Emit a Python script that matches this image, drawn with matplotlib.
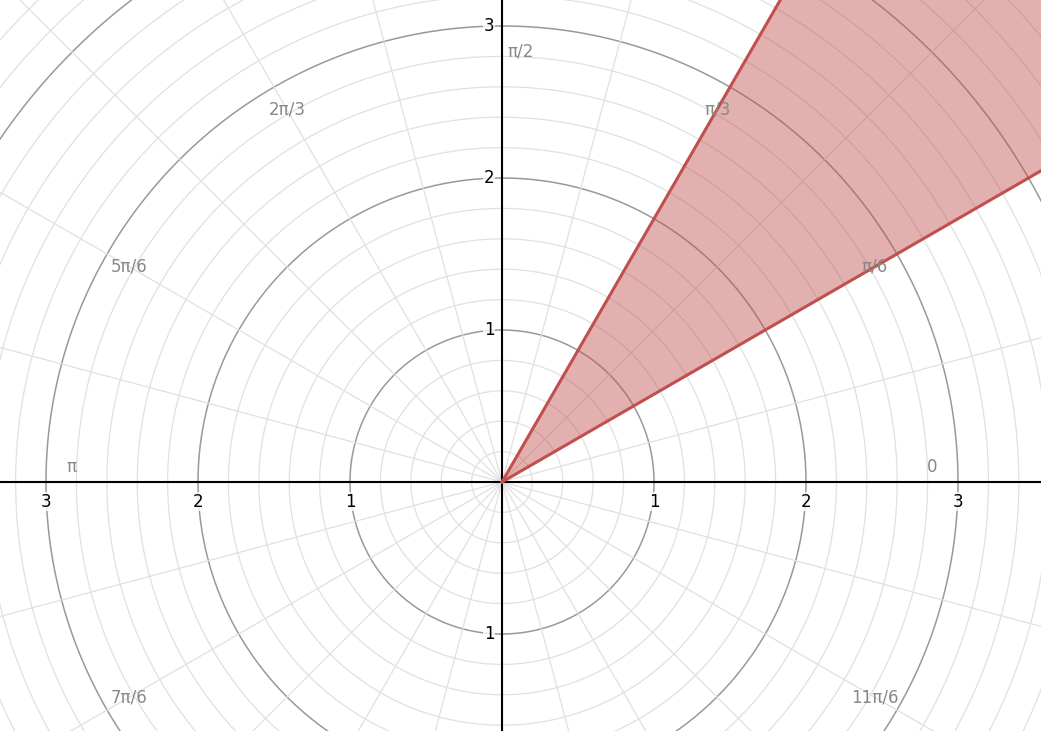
import numpy as np
import matplotlib.pyplot as plt

# wedge pi/6 <= theta <= pi/3
theta_min = np.pi / 6
theta_max = np.pi / 3
angle_labels = ['0', 'π/6', 'π/3', 'π/2', '2π/3', '5π/6', 'π', '7π/6', '4π/3', '3π/2', '5π/3', '11π/6']
x_ticks = [-3, -2, -1, 1, 2, 3]
y_ticks = [-1, 1, 2, 3]

fig = plt.figure(figsize=(10.41, 7.31), dpi=100)
ax = fig.add_axes([0, 0, 1, 1])
x0, x1 = -502 / 152, (1041 - 502) / 152
y0, y1 = -(731 - 482) / 152, 482 / 152
ax.set_xlim(x0, x1)
ax.set_ylim(y0, y1)
ax.axis('off')

t = np.linspace(0, 2 * np.pi, 400)
for r in np.arange(0.2, 5.01, 0.2):
    major = abs(r - round(r)) < 1e-6
    ax.plot(r * np.cos(t), r * np.sin(t), color='#999999' if major else '#e0e0e0',
            lw=1.1 if major else 0.9, zorder=1)
for k in range(24):
    a = k * np.pi / 12
    ax.plot([0, 6 * np.cos(a)], [0, 6 * np.sin(a)], color='#e0e0e0', lw=0.9, zorder=1)

ax.axhline(0, color='black', lw=1.5, zorder=3)
ax.axvline(0, color='black', lw=1.5, zorder=3)

# shaded wedge
R = 6
ax.fill([0, R * np.cos(theta_min), R * np.cos(theta_max)],
        [0, R * np.sin(theta_min), R * np.sin(theta_max)],
        color='#c0504d', alpha=0.45, lw=0, zorder=2)
for a in (theta_min, theta_max):
    ax.plot([0, R * np.cos(a)], [0, R * np.sin(a)], color='#c0504d', lw=2.2, zorder=4)

for k, lab in enumerate(angle_labels):
    a = k * np.pi / 6
    x, y = 2.83 * np.cos(a), 2.83 * np.sin(a)
    if k == 3:
        x += 0.12
    if k in (0, 6):
        y += 0.1
    if not (x0 + 0.1 < x < x1 - 0.1 and y0 + 0.1 < y < y1 - 0.1):
        continue
    ax.text(x, y, lab, color='#888888', fontsize=12, ha='center', va='center', zorder=5)

for v in x_ticks:
    ax.text(v, -0.07, str(abs(v)), fontsize=12, ha='center', va='top', zorder=5,
            bbox=dict(fc='white', ec='none', pad=0.5, alpha=0.8))
for v in y_ticks:
    ax.text(-0.05, v, str(abs(v)), fontsize=12, ha='right', va='center', zorder=5,
            bbox=dict(fc='white', ec='none', pad=0.5, alpha=0.8))

fig.savefig('out.png', dpi=100)
